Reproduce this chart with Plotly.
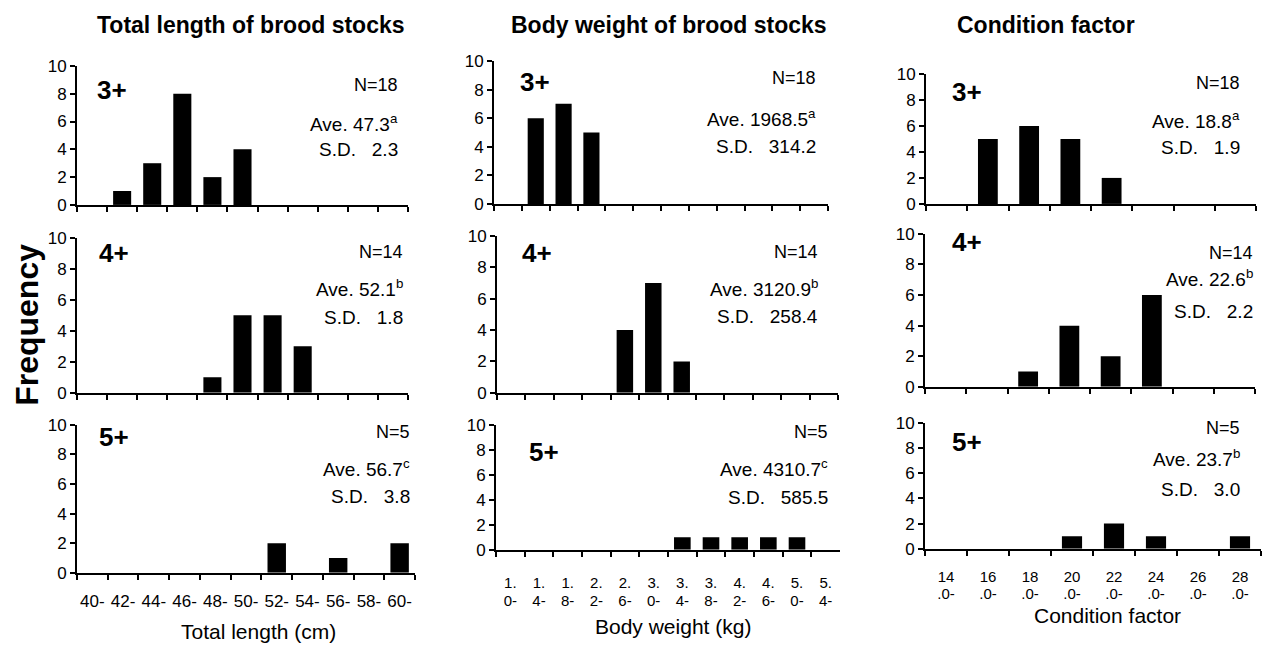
import plotly.graph_objects as go

W, H = 1262, 645

# ---------------- data ----------------
length_cats = ["40-", "42-", "44-", "46-", "48-", "50-", "52-", "54-", "56-", "58-", "60-"]
length_3 = [0, 1, 3, 8, 2, 4, 0, 0, 0, 0, 0]
length_4 = [0, 0, 0, 0, 1, 5, 5, 3, 0, 0, 0]
length_5 = [0, 0, 0, 0, 0, 0, 2, 0, 1, 0, 2]

weight_cats = ["1.0-", "1.4-", "1.8-", "2.2-", "2.6-", "3.0-",
               "3.4-", "3.8-", "4.2-", "4.6-", "5.0-", "5.4-"]
weight_3 = [0, 6, 7, 5, 0, 0, 0, 0, 0, 0, 0, 0]
weight_4 = [0, 0, 0, 0, 4, 7, 2, 0, 0, 0, 0, 0]
weight_5 = [0, 0, 0, 0, 0, 0, 1, 1, 1, 1, 1, 0]

cf_cats = ["14.0-", "16.0-", "18.0-", "20.0-", "22.0-", "24.0-", "26.0-", "28.0-"]
cf_3 = [0, 5, 6, 5, 2, 0, 0, 0]
cf_4 = [0, 0, 1, 4, 2, 6, 0, 0]
cf_5 = [0, 0, 0, 1, 2, 1, 0, 1]

age_labels = ["3+", "4+", "5+"]
n_values = ["18", "14", "5"]
length_ave = ["47.3", "52.1", "56.7"]
length_sup = ["a", "b", "c"]
length_sd = ["2.3", "1.8", "3.8"]
weight_ave = ["1968.5", "3120.9", "4310.7"]
weight_sup = ["a", "b", "c"]
weight_sd = ["314.2", "258.4", "585.5"]
cf_ave = ["18.8", "22.6", "23.7"]
cf_sup = ["a", "b", "b"]
cf_sd = ["1.9", "2.2", "3.0"]

col_titles = ["Total length of brood stocks", "Body weight of brood stocks", "Condition factor"]
x_titles = ["Total length (cm)", "Body weight (kg)", "Condition factor"]
y_title = "Frequency"
y_ticks = [0, 2, 4, 6, 8, 10]

# ---------------- layout helpers ----------------
FONT = "Liberation Sans, Arial, sans-serif"
# observed vertical mapping of the photographed page: pic_y = YS * fig_y + YB
YS, YB = 0.971, 9.0


def X(px):
    return min(1.0, max(0.0, px / W))


def Y(py):
    fy = (py - YB) / YS
    return min(1.0, max(0.0, 1 - fy / H))


# pixel boxes (left, right, top, bottom) per panel [row][col], picture coords
boxes = [
    [(77, 408, 66, 205), (494, 828, 61, 204), (926, 1256, 74, 204)],
    [(77, 408, 238, 393), (497, 838, 236, 393), (925, 1255, 234, 387)],
    [(77, 415, 425, 573), (496, 840, 425, 550), (925, 1261, 423, 549)],
]

# (cats, series, bar width, ave, sup, sd, split index for 2-line labels, standoffs, label size)
columns = [
    (length_cats, [length_3, length_4, length_5], 0.6, length_ave, length_sup, length_sd, None, (12, None), 17),
    (weight_cats, [weight_3, weight_4, weight_5], 0.58, weight_ave, weight_sup, weight_sd, 2, (22, 40), 15),
    (cf_cats, [cf_3, cf_4, cf_5], 0.48, cf_ave, cf_sup, cf_sd, 2, (17, 34), 15),
]

# text positions per panel: (age_x, age_y, right_x, n_y, ave_y, sd_y)
text_pos = [
    [(95, 90, 400, 85, 123, 150), (518, 82, 818, 78, 118, 147), (950, 92, 1242, 83, 120, 148)],
    [(97, 253, 405, 252, 288, 318), (520, 253, 820, 252, 288, 317), (950, 242, 1255, 253, 278, 312)],
    [(97, 437, 412, 432, 468, 497), (527, 452, 830, 432, 468, 498), (950, 442, 1242, 428, 458, 490)],
]

fig = go.Figure()
layout = {}
annotations = []

TICKFONT = dict(family=FONT, size=17, color="black")

idx = 0
extra = 9
for c, (cats, series, bw, aves, sups, sds, split, standoffs, lsize) in enumerate(columns):
    for r in range(3):
        idx += 1
        xa = "x" if idx == 1 else f"x{idx}"
        ya = "y" if idx == 1 else f"y{idx}"
        left, right, top, bottom = boxes[r][c]
        fig.add_trace(go.Bar(
            x=cats, y=series[r], width=bw,
            marker=dict(color="black", line=dict(width=0)),
            xaxis=xa, yaxis=ya, showlegend=False, hoverinfo="x+y",
        ))
        xkey = "xaxis" if idx == 1 else f"xaxis{idx}"
        ykey = "yaxis" if idx == 1 else f"yaxis{idx}"
        bottom_row = (r == 2)
        layout[xkey] = dict(
            domain=[X(left), X(right)], anchor=ya, type="category",
            categoryorder="array", categoryarray=cats,
            range=[-0.5, len(cats) - 0.5], tickson="boundaries",
            ticks="outside", ticklen=5, tickwidth=2, tickcolor="black",
            showline=True, linecolor="black", linewidth=2,
            showgrid=False, zeroline=False,
            showticklabels=(bottom_row and split is None),
            ticklabelstandoff=standoffs[0],
            tickfont=TICKFONT, tickangle=0, fixedrange=True,
        )
        layout[ykey] = dict(
            domain=[Y(bottom), Y(top)], anchor=xa, range=[0, 10],
            tickmode="array", tickvals=y_ticks,
            ticks="outside", ticklen=5, tickwidth=2, tickcolor="black",
            showline=True, linecolor="black", linewidth=2,
            showgrid=False, zeroline=False,
            tickfont=TICKFONT, fixedrange=True,
        )
        # two-line tick labels drawn by two overlaid label-only axes
        if bottom_row and split is not None:
            lines = [[s[:split] for s in cats], [s[split:] for s in cats]]
            for li in range(2):
                extra += 1
                oxa = f"x{extra}"
                layout[f"xaxis{extra}"] = dict(
                    overlaying=xa, anchor=ya, side="bottom",
                    range=[-0.5, len(cats) - 0.5], tickmode="array",
                    tickvals=list(range(len(cats))), ticktext=lines[li],
                    ticks="", showline=False, showgrid=False, zeroline=False,
                    ticklabelstandoff=standoffs[li],
                    tickfont=dict(family=FONT, size=lsize, color="black"),
                    tickangle=0, fixedrange=True,
                )
                fig.add_trace(go.Scatter(
                    x=list(range(len(cats))), y=series[r], mode="markers",
                    marker=dict(opacity=0, size=1), xaxis=oxa, yaxis=ya,
                    showlegend=False, hoverinfo="skip",
                ))
        ax_, ay_, rx, ny, avy, sdy = text_pos[r][c]
        annotations.append(dict(
            text=f"<b>{age_labels[r]}</b>", x=X(ax_), y=Y(ay_), xref="paper", yref="paper",
            xanchor="left", yanchor="middle", showarrow=False,
            font=dict(family=FONT, size=26, color="black")))
        annotations.append(dict(
            text=f"N={n_values[r]}", x=X(rx), y=Y(ny), xref="paper", yref="paper",
            xanchor="right", yanchor="middle", showarrow=False,
            font=dict(family=FONT, size=18, color="black")))
        annotations.append(dict(
            text=f"Ave. {aves[r]}<sup>{sups[r]}</sup>", x=X(rx), y=Y(avy), xref="paper", yref="paper",
            xanchor="right", yanchor="middle", showarrow=False,
            font=dict(family=FONT, size=19, color="black")))
        annotations.append(dict(
            text=f"S.D.\u00a0\u00a0 {sds[r]}", x=X(rx), y=Y(sdy), xref="paper", yref="paper",
            xanchor="right", yanchor="middle", showarrow=False,
            font=dict(family=FONT, size=19, color="black")))

# column titles
for t, cx in zip(col_titles, [251, 669, 1046]):
    annotations.append(dict(
        text=f"<b>{t}</b>", x=X(cx), y=Y(25), xref="paper", yref="paper",
        xanchor="center", yanchor="middle", showarrow=False,
        font=dict(family=FONT, size=23, color="black")))

# x titles
for t, cx, cy in zip(x_titles, [258, 673, 1107], [632, 627, 616]):
    annotations.append(dict(
        text=t, x=X(cx), y=Y(cy), xref="paper", yref="paper",
        xanchor="center", yanchor="middle", showarrow=False,
        font=dict(family=FONT, size=21, color="black")))

# y title
annotations.append(dict(
    text=f"<b>{y_title}</b>", x=X(27), y=Y(325), xref="paper", yref="paper",
    xanchor="center", yanchor="middle", showarrow=False, textangle=-90,
    font=dict(family=FONT, size=32, color="black")))

fig.update_layout(
    width=W, height=H, margin=dict(l=0, r=0, t=0, b=0),
    paper_bgcolor="white", plot_bgcolor="white",
    annotations=annotations, showlegend=False, bargap=0.4,
    **layout,
)

fig.write_html("out.html", include_plotlyjs=True, config={"displayModeBar": False})
